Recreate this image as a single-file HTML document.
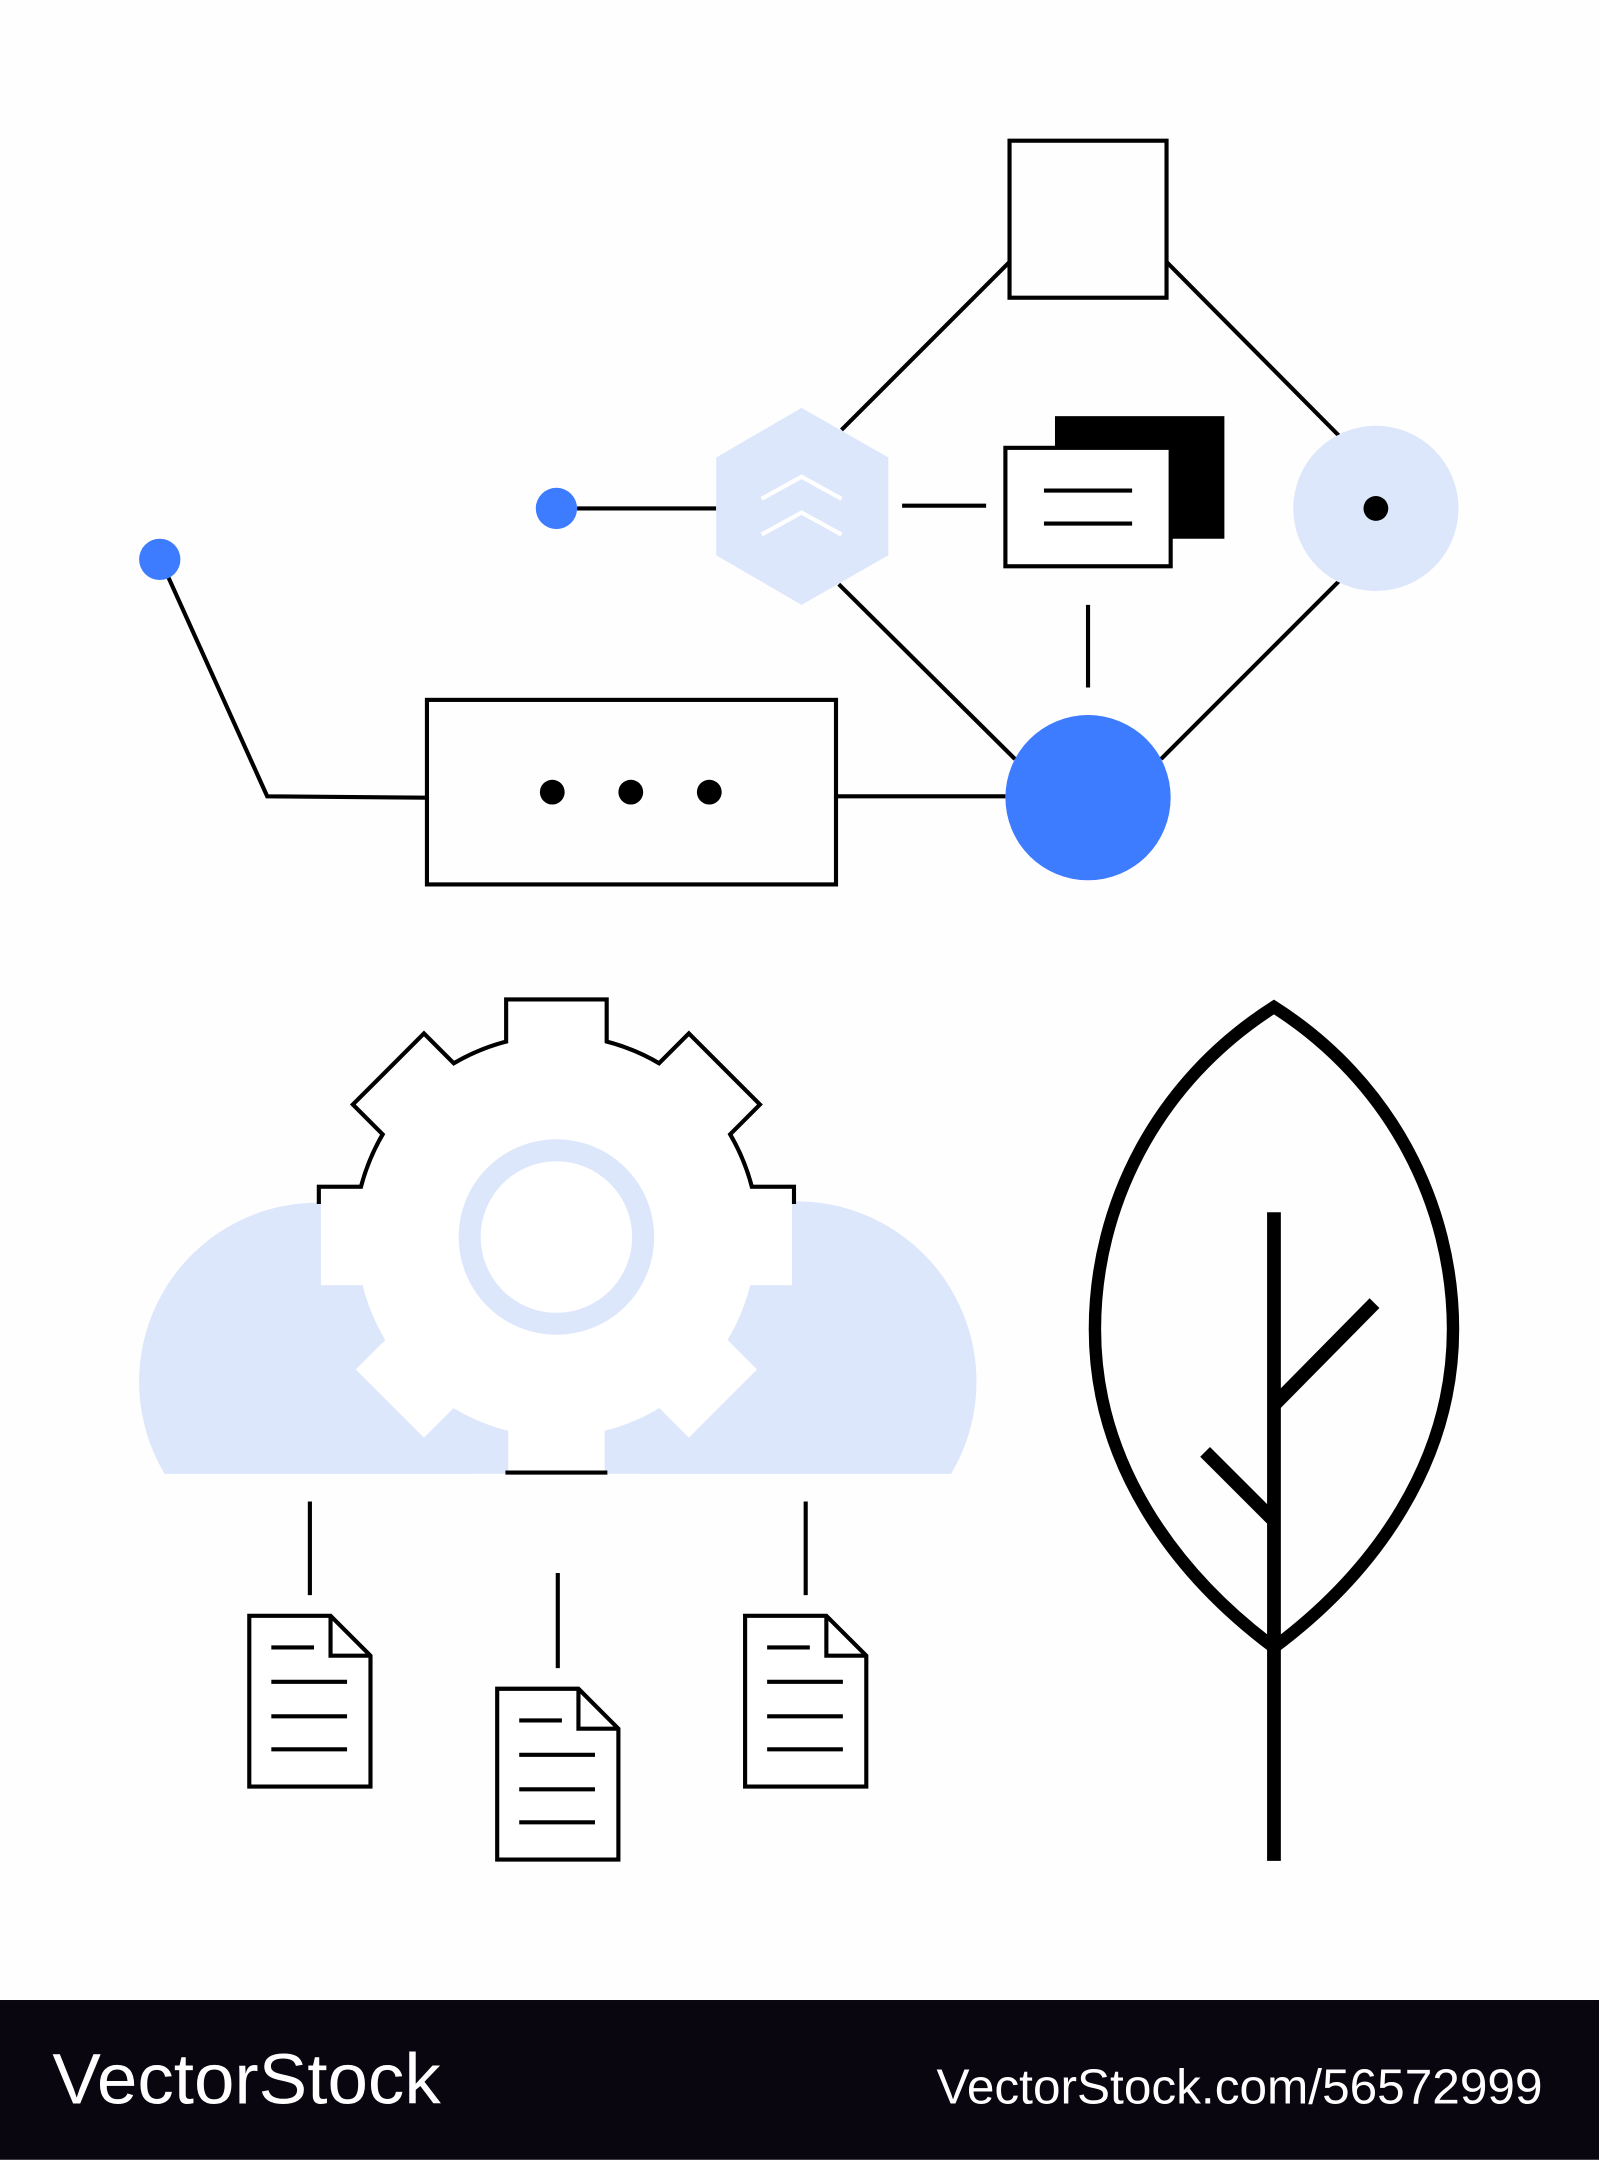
<!DOCTYPE html>
<html><head><meta charset="utf-8"><style>
html,body{margin:0;padding:0;background:#fefefe;}
svg{display:block;}
</style></head><body>
<svg width="1599" height="2160" viewBox="0 0 1161 1568" xmlns="http://www.w3.org/2000/svg">
<defs>
<clipPath id="cloudclip"><rect x="0" y="0" width="1161" height="1070"/></clipPath>
<clipPath id="topclip"><rect x="0" y="0" width="1161" height="874"/></clipPath>
</defs>
<rect width="1161" height="1568" fill="#fefefe"/>
<g stroke="#000" stroke-width="3" fill="none">
<rect x="733" y="102" width="114" height="114"/>
<line x1="733" y1="190" x2="611" y2="312"/>
<line x1="847" y1="190" x2="972" y2="316"/>
<line x1="609" y1="424" x2="737" y2="551"/>
<line x1="972" y1="422" x2="843" y2="551"/>
<line x1="419" y1="369" x2="520" y2="369"/>
<line x1="655" y1="367" x2="716" y2="367"/>
<line x1="790" y1="439" x2="790" y2="499"/>
<line x1="607" y1="578" x2="730" y2="578"/>
<polyline points="120,414 194,578 310,579"/>
</g>
<polygon points="582,296 645,332 645,403 582,439 520,403 520,332" fill="#dde7fb"/>
<g stroke="#fff" stroke-width="3" fill="none">
<polyline points="553,362 582,346 611,362"/>
<polyline points="553,388 582,372 611,388"/>
</g>
<circle cx="404" cy="369" r="15" fill="#3d7bff"/>
<circle cx="116" cy="406" r="15" fill="#3d7bff"/>
<rect x="766" y="302" width="123" height="89" fill="#000"/>
<rect x="730" y="325" width="120" height="86" fill="#fff" stroke="#000" stroke-width="3"/>
<g stroke="#000" stroke-width="3">
<line x1="758" y1="356" x2="822" y2="356"/>
<line x1="758" y1="380" x2="822" y2="380"/>
</g>
<circle cx="999" cy="369" r="60" fill="#dde7fb"/>
<circle cx="999" cy="369" r="9" fill="#000"/>
<circle cx="790" cy="579" r="60" fill="#3d7bff"/>
<rect x="310" y="508" width="297" height="134" fill="none" stroke="#000" stroke-width="3"/>
<circle cx="401" cy="575" r="9" fill="#000"/>
<circle cx="458" cy="575" r="9" fill="#000"/>
<circle cx="515" cy="575" r="9" fill="#000"/>

<g clip-path="url(#cloudclip)" fill="#dde7fb">
<circle cx="231" cy="1003" r="130"/>
<circle cx="578" cy="1003" r="131"/>
<rect x="231" y="873" width="347" height="197"/>
</g>
<g clip-path="url(#topclip)" stroke="#000" stroke-width="6" fill="none">
<circle cx="404" cy="898" r="145"/>
<g transform="translate(404,898)">
<rect x="-35" y="-171" width="70" height="60" transform="rotate(0)"/>
<rect x="-35" y="-171" width="70" height="60" transform="rotate(45)"/>
<rect x="-35" y="-171" width="70" height="60" transform="rotate(90)"/>
<rect x="-35" y="-171" width="70" height="60" transform="rotate(135)"/>
<rect x="-35" y="-171" width="70" height="60" transform="rotate(180)"/>
<rect x="-35" y="-171" width="70" height="60" transform="rotate(225)"/>
<rect x="-35" y="-171" width="70" height="60" transform="rotate(270)"/>
<rect x="-35" y="-171" width="70" height="60" transform="rotate(315)"/>
</g>
</g>
<g fill="#fff">
<circle cx="404" cy="898" r="145"/>
<g transform="translate(404,898)">
<rect x="-35" y="-171" width="70" height="60" transform="rotate(0)"/>
<rect x="-35" y="-171" width="70" height="60" transform="rotate(45)"/>
<rect x="-35" y="-171" width="70" height="60" transform="rotate(90)"/>
<rect x="-35" y="-171" width="70" height="60" transform="rotate(135)"/>
<rect x="-35" y="-171" width="70" height="60" transform="rotate(180)"/>
<rect x="-35" y="-171" width="70" height="60" transform="rotate(225)"/>
<rect x="-35" y="-171" width="70" height="60" transform="rotate(270)"/>
<rect x="-35" y="-171" width="70" height="60" transform="rotate(315)"/>
</g>
</g>
<circle cx="404" cy="898" r="63" fill="none" stroke="#dde7fb" stroke-width="16"/>
<line x1="367" y1="1069" x2="441" y2="1069" stroke="#000" stroke-width="3"/>

<g stroke="#000" stroke-width="3" fill="none">
<line x1="225" y1="1090" x2="225" y2="1158"/>
<line x1="405" y1="1142" x2="405" y2="1211"/>
<line x1="585" y1="1090" x2="585" y2="1158"/>
</g>
<g id="doc" stroke="#000" stroke-width="3" fill="#fff">
<path d="M181,1173 L240,1173 L269,1202 L269,1297 L181,1297 Z"/>
<polyline points="240,1173 240,1202 269,1202" fill="none"/>
<line x1="197" y1="1196" x2="228" y2="1196"/>
<line x1="197" y1="1221" x2="252" y2="1221"/>
<line x1="197" y1="1246" x2="252" y2="1246"/>
<line x1="197" y1="1270" x2="252" y2="1270"/>
</g>
<use href="#doc" transform="translate(180,53)"/>
<use href="#doc" transform="translate(360,0)"/>

<path d="M925,731 C840,785 795,875 795,965 C795,1060 850,1140 925,1196 C1000,1140 1055,1060 1055,965 C1055,875 1010,785 925,731 Z" fill="none" stroke="#000" stroke-width="9"/>
<g stroke="#000" stroke-width="10">
<line x1="925" y1="880" x2="925" y2="1351"/>
<line x1="925" y1="1020" x2="998" y2="946"/>
<line x1="925" y1="1104" x2="875" y2="1054"/>
</g>

<rect x="0" y="1452" width="1161" height="116" fill="#0a0610"/>
<text x="38" y="1527" fill="#fff" font-family="Liberation Sans, sans-serif" font-size="52" textLength="282" lengthAdjust="spacingAndGlyphs">VectorStock</text>
<text x="680" y="1527" fill="#fff" font-family="Liberation Sans, sans-serif" font-size="36" textLength="440" lengthAdjust="spacingAndGlyphs">VectorStock.com/56572999</text>
</svg>
</body></html>
